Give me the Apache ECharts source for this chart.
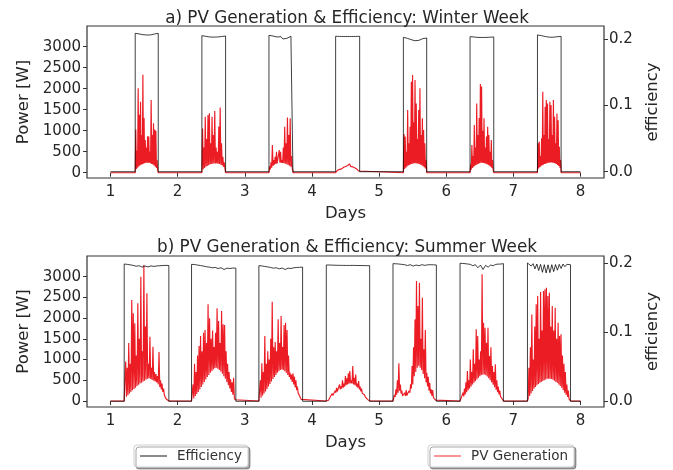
<!DOCTYPE html>
<html>
<head>
<meta charset="utf-8">
<title>PV Generation & Efficiency</title>
<script src="https://cdn.jsdelivr.net/npm/echarts@6/dist/echarts.min.js"></script>
<style>
  html, body { margin: 0; padding: 0; background: #fff; }
  #chart { width: 673px; height: 470px; }
</style>
</head>
<body>
<div id="chart"></div>
<script>
// axis ticks
var dayTicks = [1, 2, 3, 4, 5, 6, 7, 8];
var powerTicks = [0, 500, 1000, 1500, 2000, 2500, 3000];
var effTicks = [0, 0.1, 0.2];

// ---- winter week ----
// sunrise / sunset of each day (days)
var winterRise = [1.368, 2.361, 3.36, 4.353, 5.362, 6.355, 7.359];
var winterSet = [1.711, 2.714, 3.717, 4.711, 5.709, 6.708, 7.711];

// PV generation [W], samples spread evenly from sunrise to sunset
var winterPV1 = [60, 1030, 90, 520, 120, 2010, 150, 1380, 170, 1690, 190, 900, 200, 2330, 215, 1300, 225, 780, 235, 600, 240, 870, 240, 860, 235, 500, 225, 1730, 210, 900, 195, 1175, 170, 1030, 140, 1000, 110, 300, 70, 40];
var winterPV2 = [50, 1055, 80, 600, 110, 1335, 140, 800, 160, 1375, 180, 1413, 195, 700, 205, 1333, 215, 900, 220, 1470, 222, 600, 220, 500, 215, 1100, 205, 1555, 190, 700, 170, 380, 140, 250, 100, 60];
var winterPV3 = [40, 150, 80, 250, 120, 660, 160, 300, 190, 380, 210, 500, 220, 260, 230, 540, 235, 500, 235, 300, 230, 600, 225, 1095, 215, 700, 200, 1317, 185, 900, 165, 1294, 140, 400, 100, 50];
var winterPV4 = [20, 40, 60, 50, 80, 100, 90, 110, 130, 120, 150, 140, 170, 160, 206, 150, 190, 140, 160, 120, 110, 90, 70, 40, 20];
var winterPV5 = [60, 920, 90, 860, 120, 500, 150, 1490, 170, 700, 185, 1095, 200, 2167, 210, 2326, 220, 1200, 225, 2207, 225, 1650, 220, 800, 215, 1490, 205, 2008, 190, 900, 175, 1294, 155, 1016, 130, 700, 100, 300, 60];
var winterPV6 = [30, 200, 70, 660, 110, 400, 140, 1135, 165, 600, 185, 1650, 200, 900, 215, 1300, 225, 2110, 235, 2050, 235, 1000, 230, 1295, 225, 600, 215, 860, 200, 1095, 185, 897, 165, 500, 140, 778, 110, 300, 70, 30];
var winterPV7 = [60, 700, 100, 740, 130, 400, 155, 820, 175, 1930, 190, 900, 205, 1570, 215, 1730, 225, 1650, 235, 800, 240, 1690, 245, 1610, 245, 900, 240, 1730, 230, 1330, 220, 700, 205, 1410, 185, 1250, 160, 620, 120, 300, 80];

// efficiency while the sun is up
var winterEff1 = [0.209, 0.2088, 0.2082, 0.2078, 0.207, 0.2075, 0.2065, 0.2072, 0.2066, 0.2075, 0.208, 0.2085, 0.209];
var winterEff2 = [0.2055, 0.2052, 0.2045, 0.204, 0.2035, 0.2025, 0.2033, 0.2022, 0.2035, 0.2038, 0.2042, 0.2045, 0.205];
var winterEff3 = [0.206, 0.2058, 0.205, 0.2045, 0.2035, 0.202, 0.204, 0.2005, 0.2035, 0.2015, 0.204, 0.2045, 0.205];
var winterEff4 = [0.2045, 0.2045, 0.2043, 0.2043, 0.2042, 0.2042, 0.2042, 0.2042, 0.2042, 0.2043, 0.2043, 0.2044, 0.2045];
var winterEff5 = [0.203, 0.2025, 0.2015, 0.2008, 0.1995, 0.2005, 0.1978, 0.2, 0.1985, 0.2005, 0.201, 0.2015, 0.202];
var winterEff6 = [0.204, 0.2038, 0.2035, 0.2032, 0.2028, 0.2022, 0.2028, 0.2024, 0.2028, 0.203, 0.2032, 0.2033, 0.2035];
var winterEff7 = [0.2066, 0.2062, 0.2055, 0.2048, 0.2042, 0.2035, 0.2032, 0.203, 0.2032, 0.2035, 0.2038, 0.2042, 0.2045];

// ---- summer week ----
var summerRise = [1.204, 2.207, 3.21, 4.214, 5.207, 6.206, 7.21];
var summerSet = [1.869, 2.867, 3.861, 4.86, 5.853, 6.852, 7.851];

var summerPV1 = [50, 20, 950, 100, 800, 140, 1400, 180, 900, 220, 2440, 260, 2116, 290, 1875, 320, 1100, 360, 2360, 390, 1500, 420, 3000, 440, 1200, 470, 3282, 490, 1800, 520, 2600, 540, 900, 550, 1553, 530, 800, 510, 1311, 490, 700, 470, 650, 450, 600, 400, 1185, 340, 500, 280, 420, 220, 300, 150, 100, 80, 40, 20, 10, 0];
var summerPV2 = [0, 20, 400, 60, 900, 120, 700, 170, 1100, 220, 1330, 280, 1570, 340, 1200, 400, 1650, 460, 1714, 520, 1400, 580, 2333, 630, 1995, 680, 1500, 720, 1700, 760, 1300, 790, 1650, 800, 2236, 780, 1930, 750, 1400, 710, 2172, 660, 1850, 600, 1834, 540, 1200, 460, 900, 380, 700, 300, 523, 220, 450, 150, 563, 80, 30, 0];
var summerPV3 = [0, 30, 500, 80, 909, 130, 700, 180, 1569, 230, 900, 290, 1200, 350, 1000, 410, 1500, 470, 2397, 530, 1300, 580, 1424, 630, 1200, 680, 1970, 720, 1400, 750, 2050, 760, 1300, 750, 1834, 720, 1890, 680, 1714, 630, 1100, 580, 684, 520, 640, 460, 668, 400, 587, 330, 500, 260, 350, 190, 220, 120, 80, 40, 15, 0];
var summerPV4 = [0, 10, 30, 20, 60, 50, 120, 90, 180, 130, 140, 170, 250, 200, 320, 230, 200, 260, 400, 280, 350, 300, 500, 320, 420, 350, 600, 380, 550, 400, 668, 420, 724, 430, 500, 420, 845, 400, 560, 380, 640, 350, 420, 320, 480, 280, 350, 230, 300, 180, 200, 140, 150, 100, 80, 60, 40, 20, 10, 0];
var summerPV5 = [0, 40, 150, 100, 280, 150, 500, 200, 909, 250, 400, 180, 250, 120, 160, 110, 200, 120, 265, 130, 180, 150, 250, 200, 400, 300, 845, 400, 1300, 600, 1970, 700, 2896, 800, 2290, 850, 2855, 800, 1500, 750, 2494, 650, 1247, 550, 1714, 450, 684, 350, 587, 250, 442, 180, 280, 120, 265, 80, 100, 40, 20, 0];
var summerPV6 = [0, 30, 100, 70, 200, 110, 300, 160, 450, 210, 724, 260, 500, 300, 1000, 350, 700, 400, 1247, 440, 900, 480, 1730, 520, 1570, 560, 1000, 600, 1200, 630, 3057, 640, 1890, 640, 1770, 620, 1408, 590, 1770, 550, 1086, 500, 1300, 450, 845, 390, 700, 330, 885, 270, 500, 210, 350, 160, 250, 110, 150, 60, 20, 0];
var summerPV7 = [0, 60, 800, 120, 1300, 180, 2090, 240, 1000, 300, 1800, 340, 2333, 380, 2534, 410, 1500, 440, 2630, 460, 1700, 480, 2655, 500, 2695, 520, 2735, 535, 2534, 540, 2614, 540, 1800, 530, 2290, 510, 1700, 490, 2250, 460, 1500, 440, 1890, 400, 1569, 360, 1609, 320, 1100, 260, 900, 200, 700, 150, 400, 100, 250, 50, 20, 0];

var summerEff1 = [0.199, 0.1985, 0.1978, 0.197, 0.1958, 0.1965, 0.1945, 0.196, 0.1948, 0.1962, 0.1955, 0.1962, 0.1965, 0.1968, 0.197, 0.1968];
var summerEff2 = [0.1985, 0.1982, 0.1975, 0.1968, 0.196, 0.195, 0.1945, 0.1935, 0.194, 0.1925, 0.1935, 0.191, 0.193, 0.1925, 0.1932, 0.193];
var summerEff3 = [0.1966, 0.1962, 0.1955, 0.1948, 0.194, 0.193, 0.1935, 0.192, 0.1932, 0.191, 0.193, 0.1925, 0.1935, 0.194, 0.1942, 0.1945];
var summerEff4 = [0.1976, 0.1975, 0.1974, 0.1972, 0.1971, 0.197, 0.197, 0.1969, 0.1969, 0.197, 0.1969, 0.1968, 0.1968, 0.1967, 0.1966, 0.1966];
var summerEff5 = [0.1995, 0.1993, 0.199, 0.1985, 0.198, 0.1968, 0.198, 0.196, 0.1975, 0.1965, 0.198, 0.197, 0.1978, 0.198, 0.1978, 0.1976];
var summerEff6 = [0.2, 0.1998, 0.1995, 0.199, 0.1985, 0.1965, 0.198, 0.1935, 0.1975, 0.191, 0.197, 0.1945, 0.1975, 0.1965, 0.1985, 0.1988, 0.199, 0.1995];
var summerEff7 = [0.2005, 0.2, 0.196, 0.1995, 0.192, 0.199, 0.1895, 0.1985, 0.187, 0.198, 0.186, 0.1978, 0.1865, 0.198, 0.188, 0.1982, 0.19, 0.1985, 0.1925, 0.199, 0.195, 0.1985, 0.1975, 0.198];

var winterPV = [winterPV1, winterPV2, winterPV3, winterPV4, winterPV5, winterPV6, winterPV7];
var winterEff = [winterEff1, winterEff2, winterEff3, winterEff4, winterEff5, winterEff6, winterEff7];
var summerPV = [summerPV1, summerPV2, summerPV3, summerPV4, summerPV5, summerPV6, summerPV7];
var summerEff = [summerEff1, summerEff2, summerEff3, summerEff4, summerEff5, summerEff6, summerEff7];

// day samples -> [day, value] pairs, zero at night
function buildPV(rise, set, days) {
  var pts = [[1, 0]];
  days.forEach(function (vals, d) {
    var step = (set[d] - rise[d]) / (vals.length - 1);
    pts.push([rise[d], 0]);
    vals.forEach(function (v, i) {
      pts.push([rise[d] + i * step, v]);
    });
    pts.push([set[d], 0]);
  });
  pts.push([8, 0]);
  return pts;
}

var FONT = 'DejaVu Sans';
var TXT = '#262626';

function xAxisFor(gridIndex) {
  return {
    type: 'value', gridIndex: gridIndex, min: 0.65, max: 8.35,
    name: 'Days', nameLocation: 'middle', nameGap: 27,
    nameTextStyle: { fontFamily: FONT, fontSize: 16.5, color: TXT },
    axisLine: { show: false },
    axisTick: { show: true, length: 4, customValues: dayTicks, lineStyle: { color: '#333' } },
    axisLabel: { customValues: dayTicks, margin: 7, fontFamily: FONT, fontSize: 15, color: TXT },
    splitLine: { show: false }
  };
}

function powerAxis(gridIndex, min, max) {
  return {
    type: 'value', gridIndex: gridIndex, position: 'left', min: min, max: max,
    name: 'Power [W]', nameLocation: 'middle', nameGap: 49, nameRotate: 90,
    nameTextStyle: { fontFamily: FONT, fontSize: 16.5, color: TXT },
    axisLine: { show: false },
    axisTick: { show: true, length: 4, customValues: powerTicks, lineStyle: { color: '#333' } },
    axisLabel: {
      customValues: powerTicks, margin: 6, fontFamily: FONT, fontSize: 15, color: TXT,
      formatter: function (v) { return String(v); }
    },
    splitLine: { show: false }
  };
}

function effAxis(gridIndex, min, max) {
  return {
    type: 'value', gridIndex: gridIndex, position: 'right', min: min, max: max,
    name: 'efficiency', nameLocation: 'middle', nameGap: 39, nameRotate: 90,
    nameTextStyle: { fontFamily: FONT, fontSize: 16.5, color: TXT },
    axisLine: { show: false },
    axisTick: { show: true, length: 4, customValues: effTicks, lineStyle: { color: '#333' } },
    axisLabel: {
      customValues: effTicks, margin: 5, fontFamily: FONT, fontSize: 15, color: TXT,
      formatter: function (v) { return v.toFixed(1); }
    },
    splitLine: { show: false }
  };
}

function pvSeries(xi, yi, data) {
  return {
    name: 'PV Generation', type: 'line', xAxisIndex: xi, yAxisIndex: yi,
    data: data, symbol: 'none', animation: false,
    lineStyle: { color: '#ec1c24', width: 1.15 }, itemStyle: { color: '#f0555b' }
  };
}

function effSeries(xi, yi, data) {
  return {
    name: 'Efficiency', type: 'line', xAxisIndex: xi, yAxisIndex: yi,
    data: data, symbol: 'none', animation: false,
    lineStyle: { color: '#000', width: 1, opacity: 0.75 }, itemStyle: { color: '#444' }
  };
}

function legendBox(name, left) {
  return {
    data: [name], left: left, top: 445, orient: 'horizontal',
    icon: 'path://M0,0 L28,0 L28,1.3 L0,1.3 Z',
    itemWidth: 27, itemHeight: 14,
    padding: [4, 6, 4, 6],
    backgroundColor: '#fff', borderColor: '#cfcfcf', borderWidth: 1, borderRadius: 3,
    shadowColor: 'rgba(0,0,0,0.35)', shadowOffsetX: 2, shadowOffsetY: 2, shadowBlur: 0,
    selectedMode: false,
    textStyle: { fontFamily: FONT, fontSize: 13.5, color: '#333', padding: [0, 0, 0, 5] }
  };
}

var chart = echarts.init(document.getElementById('chart'), null, { renderer: 'canvas' });

var option = {
  backgroundColor: '#fff',
  animation: false,
  title: [
    { text: 'a) PV Generation & Efficiency: Winter Week', left: 342, textAlign: 'center', top: 5,
      textStyle: { fontFamily: FONT, fontSize: 16.8, fontWeight: 'normal', color: TXT } },
    { text: 'b) PV Generation & Efficiency: Summer Week', left: 342, textAlign: 'center', top: 234,
      textStyle: { fontFamily: FONT, fontSize: 16.8, fontWeight: 'normal', color: TXT } }
  ],
  legend: [legendBox('Efficiency', 134), legendBox('PV Generation', 428)],
  grid: [
    { left: 87, right: 69, top: 26, height: 152, show: true, borderColor: '#333', borderWidth: 1.2 },
    { left: 87, right: 69, top: 256, height: 151, show: true, borderColor: '#333', borderWidth: 1.2 }
  ],
  xAxis: [xAxisFor(0), xAxisFor(1)],
  yAxis: [
    powerAxis(0, -126, 3493),
    effAxis(0, -0.0095, 0.2201),
    powerAxis(1, -145, 3500),
    effAxis(1, -0.0083, 0.2106)
  ],
  series: [
    pvSeries(0, 0, buildPV(winterRise, winterSet, winterPV)),
    effSeries(0, 1, buildPV(winterRise, winterSet, winterEff)),
    pvSeries(1, 2, buildPV(summerRise, summerSet, summerPV)),
    effSeries(1, 3, buildPV(summerRise, summerSet, summerEff))
  ]
};

chart.setOption(option);
window.addEventListener('resize', function () {
  chart.resize();
});
</script>
</body>
</html>
